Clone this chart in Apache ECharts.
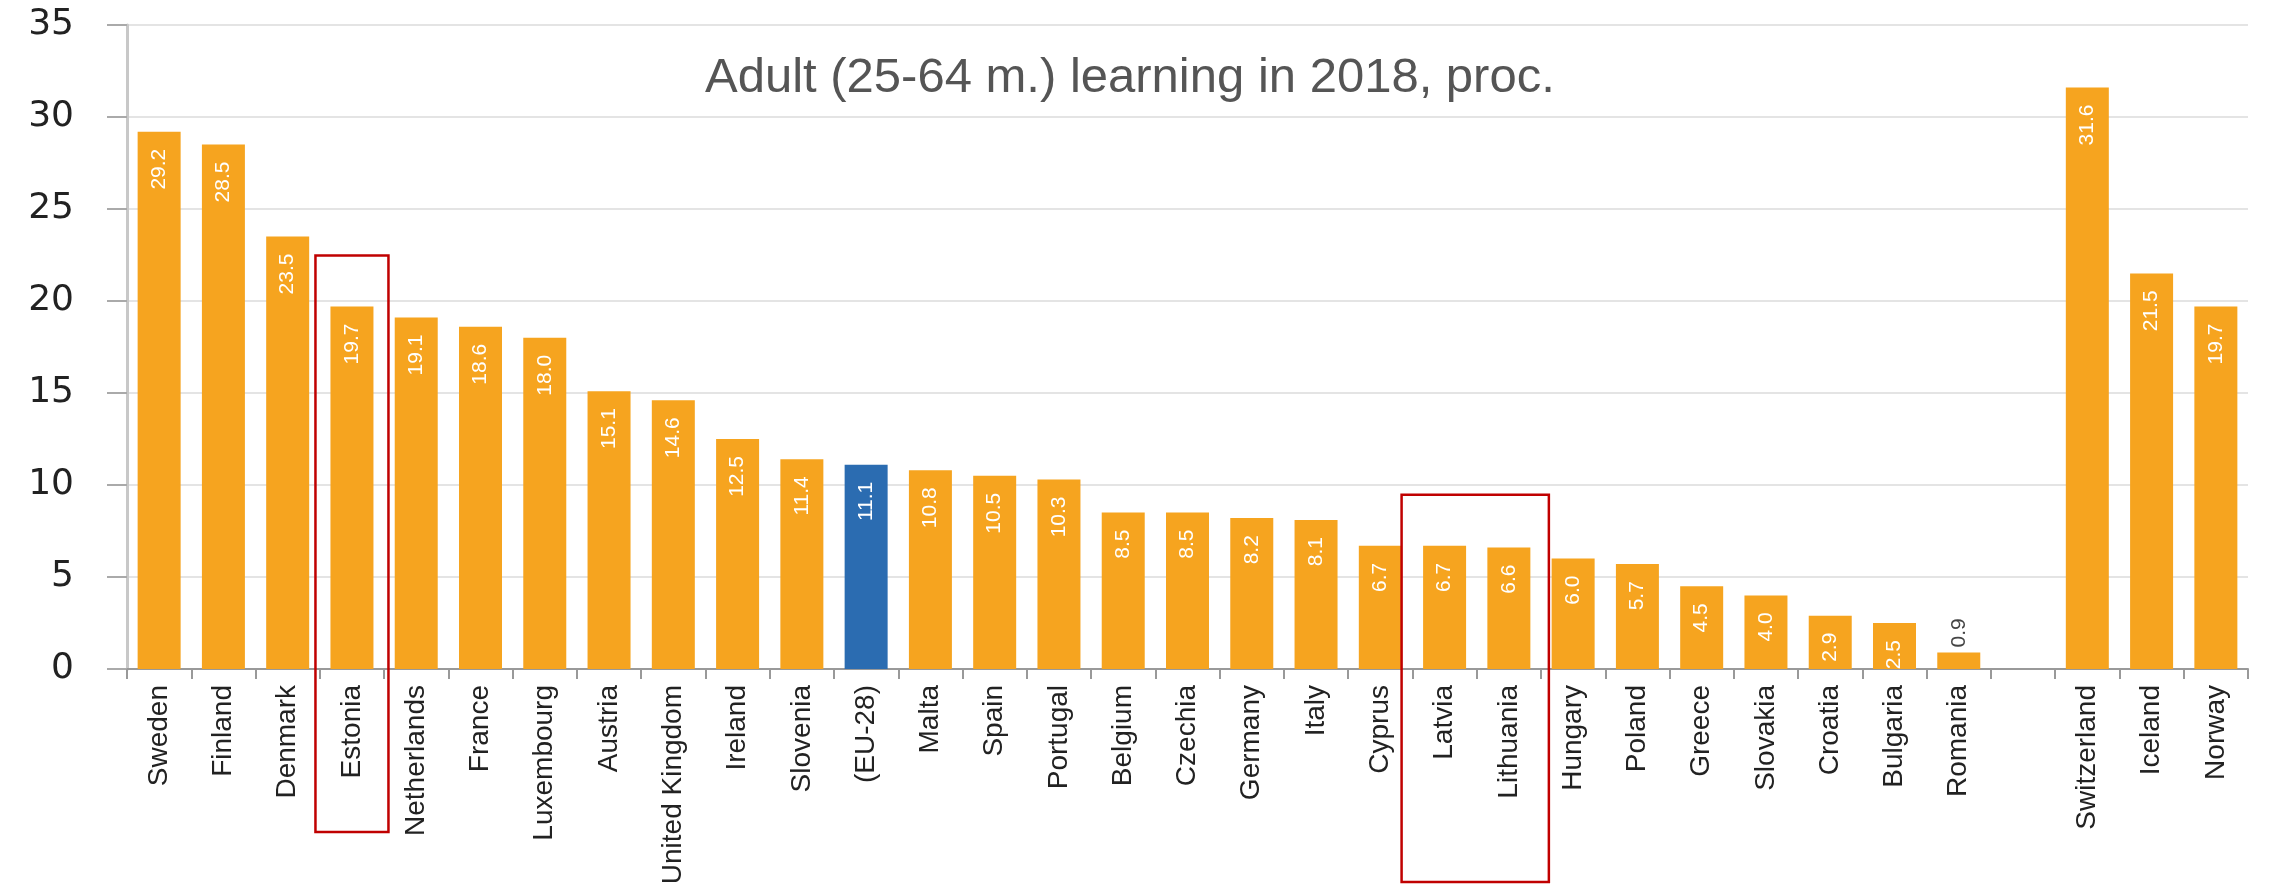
<!DOCTYPE html>
<html>
<head>
<meta charset="utf-8">
<script src="https://cdn.jsdelivr.net/npm/echarts@6/dist/echarts.min.js"></script>
<style>
html,body{margin:0;padding:0;background:#fff;}
#chart{width:2276px;height:892px;}
</style>
</head>
<body>
<div id="chart"></div>
<script>
const titleText = 'Adult (25-64 m.) learning in 2018, proc.';
const countries = ['Sweden','Finland','Denmark','Estonia','Netherlands','France','Luxembourg','Austria','United Kingdom','Ireland','Slovenia','(EU-28)','Malta','Spain','Portugal','Belgium','Czechia','Germany','Italy','Cyprus','Latvia','Lithuania','Hungary','Poland','Greece','Slovakia','Croatia','Bulgaria','Romania','','Switzerland','Iceland','Norway'];
const values = [29.2,28.5,23.5,19.7,19.1,18.6,18.0,15.1,14.6,12.5,11.4,11.1,10.8,10.5,10.3,8.5,8.5,8.2,8.1,6.7,6.7,6.6,6.0,5.7,4.5,4.0,2.9,2.5,0.9,null,31.6,21.5,19.7];
const yTicks = [0,5,10,15,20,25,30,35];
const averageName = '(EU-28)';
const outsideLabelNames = ['Romania'];
const highlightGroups = [['Estonia'], ['Latvia','Lithuania']];

const ORANGE = '#F6A41F';
const BLUE = '#2B6CB1';

const chart = echarts.init(document.getElementById('chart'), null, {renderer:'canvas'});

const barData = countries.map((c, i) => {
  if (values[i] === null) return {value: null};
  const item = {value: values[i], itemStyle: {color: c === averageName ? BLUE : ORANGE}};
  if (outsideLabelNames.includes(c)) {
    item.label = {position: 'top', align: 'left', color: '#444', distance: 5};
  }
  return item;
});

const option = {
  animation: false,
  backgroundColor: '#ffffff',
  title: {
    text: titleText,
    left: 700,
    top: 49,
    textStyle: {fontFamily: 'Liberation Sans, Arial, sans-serif', fontSize: 49, fontWeight: 'normal', color: '#555555'}
  },
  grid: {left: 127, right: 28, top: 25, bottom: 223, outerBoundsMode: 'none', containLabel: false},
  xAxis: {
    type: 'category',
    data: countries,
    boundaryGap: true,
    axisLine: {show: true, lineStyle: {color: '#999', width: 2}},
    axisTick: {show: true, length: 10, alignWithLabel: false, interval: 0, lineStyle: {color: '#999', width: 2}},
    axisLabel: {rotate: 90, interval: 0, margin: 16, fontFamily: 'Liberation Sans, Arial, sans-serif', fontSize: 28, color: '#222'}
  },
  yAxis: {
    type: 'value',
    min: yTicks[0],
    max: yTicks[yTicks.length - 1],
    interval: yTicks[1] - yTicks[0],
    axisLine: {show: true, lineStyle: {color: '#c8c8c8', width: 3}},
    axisTick: {show: true, length: 20, lineStyle: {color: '#aaa', width: 2}},
    splitLine: {show: true, lineStyle: {color: '#e4e4e4', width: 2}},
    axisLabel: {margin: 53, fontFamily: 'DejaVu Sans, sans-serif', fontSize: 36, color: '#222'}
  },
  series: [{
    type: 'bar',
    data: barData,
    barWidth: 43,
    label: {
      show: true,
      position: 'insideTop',
      rotate: 90,
      align: 'right',
      verticalAlign: 'middle',
      distance: 17,
      color: '#fff',
      fontFamily: 'Liberation Sans, Arial, sans-serif',
      fontSize: 21,
      formatter: p => (p.value == null ? '' : Number(p.value).toFixed(1))
    }
  }]
};

chart.setOption(option);

// red annotation boxes positioned from the axes
const boxBottoms = [163, 213];
const graphics = highlightGroups.map((grp, gi) => {
  const xs = grp.map(n => chart.convertToPixel({xAxisIndex: 0}, n));
  const maxVal = Math.max(...grp.map(n => values[countries.indexOf(n)]));
  const yTop = chart.convertToPixel({yAxisIndex: 0}, maxVal) - 51;
  const y0 = chart.convertToPixel({yAxisIndex: 0}, 0);
  const x1 = Math.min(...xs) - (grp.length > 1 ? 43 : 36.5);
  const x2 = Math.max(...xs) + (grp.length > 1 ? 40 : 36.5);
  return {
    type: 'rect',
    shape: {x: x1, y: yTop, width: x2 - x1, height: y0 + boxBottoms[gi] - yTop},
    style: {fill: 'none', stroke: '#C00000', lineWidth: 2.5},
    z: 100
  };
});
chart.setOption({graphic: graphics});
</script>
</body>
</html>
